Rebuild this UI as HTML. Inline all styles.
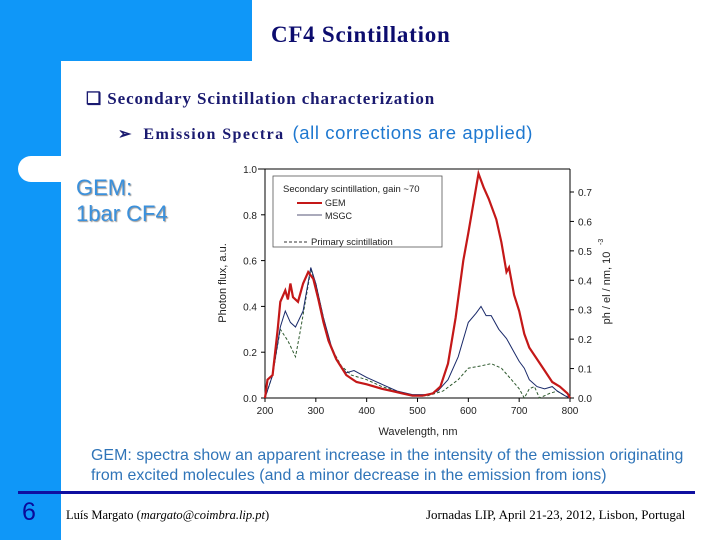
<!DOCTYPE html>
<html><head><meta charset="utf-8"><style>
body{margin:0;width:720px;height:540px;overflow:hidden;background:#fff;position:relative;font-family:"Liberation Sans",sans-serif}
.abs{position:absolute;white-space:nowrap}
.serif{font-family:"Liberation Serif",serif}
</style></head><body>
<div class="abs" style="left:0;top:0;width:252px;height:61px;background:#0f97f8"></div>
<div class="abs" style="left:0;top:0;width:61px;height:540px;background:#0f97f8"></div>
<div class="abs" style="left:61px;top:61px;width:40px;height:40px;background:#fff;border-top-left-radius:20px"></div>
<div class="abs" style="left:18px;top:156px;width:50px;height:26px;background:#fff;border-radius:13px 0 0 13px"></div>
<div class="abs serif" style="left:271px;top:22px;font-size:23px;letter-spacing:0.75px;font-weight:bold;color:#0c0c6e">CF4 Scintillation</div>
<div class="abs serif" style="left:86px;top:89px;font-size:17px;letter-spacing:0.9px;font-weight:bold;color:#1a1a70">&#x2751; Secondary Scintillation characterization</div>
<div class="abs serif" style="left:118px;top:122px;font-size:16px;font-weight:bold;color:#1a1a70">&#x27A2;&nbsp;&nbsp; <span style="letter-spacing:1.4px">Emission Spectra</span> <span style="font-family:'Liberation Sans',sans-serif;font-weight:normal;font-size:18.5px;letter-spacing:0.6px;color:#1e78d0;position:relative;left:4px">(all corrections are applied)</span></div>
<div class="abs" style="left:76px;top:175px;font-size:22px;line-height:26px;color:#3a90dc;text-shadow:1px 1px 1px #999">GEM:<br>1bar CF4</div>
<svg class="abs" style="left:0;top:0" width="720" height="540" id="chart"></svg>
<div class="abs" style="left:91px;top:446px;font-size:15.9px;letter-spacing:0.06px;line-height:20px;color:#2f74b8">GEM: spectra show an apparent increase in the intensity of the emission originating<br>from excited molecules (and a minor decrease in the emission from ions)</div>
<div class="abs" style="left:18px;top:491px;width:677px;height:3px;background:#0f0fa0"></div>
<div class="abs" style="left:22px;top:498px;font-size:25px;color:#0a0a9a">6</div>
<div class="abs serif" style="left:66px;top:508px;font-size:12.5px;color:#000">Luís Margato (<i>margato@coimbra.lip.pt</i>)</div>
<div class="abs serif" style="left:426px;top:507px;font-size:13px;color:#000">Jornadas LIP, April 21-23, 2012, Lisbon, Portugal</div>
<script>
const gemX=[200,205,215,225,230,240,245,250,255,265,275,285,295,305,315,325,340,360,380,400,430,450,470,490,510,530,545,560,575,590,600,610,620,630,640,655,665,675,680,690,700,710,720,735,750,765,780,795,800];
const gemY=[0,0.08,0.1,0.3,0.42,0.47,0.43,0.5,0.44,0.42,0.5,0.55,0.52,0.43,0.33,0.25,0.17,0.1,0.07,0.06,0.04,0.03,0.02,0.01,0.01,0.02,0.05,0.15,0.35,0.6,0.72,0.85,0.98,0.92,0.87,0.78,0.68,0.55,0.57,0.45,0.38,0.28,0.22,0.17,0.12,0.07,0.05,0.02,0];
const msgcX=[200,215,230,240,250,260,275,290,300,315,330,345,360,375,400,430,460,490,520,540,560,580,600,615,625,635,645,660,675,690,700,710,720,735,750,765,775,790,800];
const msgcY=[0,0.1,0.31,0.38,0.33,0.31,0.38,0.57,0.5,0.35,0.23,0.15,0.11,0.12,0.09,0.06,0.03,0.015,0.015,0.03,0.08,0.18,0.33,0.37,0.4,0.36,0.36,0.3,0.26,0.2,0.16,0.13,0.08,0.05,0.04,0.05,0.03,0.01,0];
const primX=[200,215,230,245,260,270,290,300,315,330,350,370,400,430,460,490,520,550,580,600,625,645,665,685,700,710,720,730,740,760,775,790,800];
const primY=[0,0.1,0.3,0.25,0.18,0.3,0.56,0.5,0.35,0.22,0.14,0.1,0.08,0.05,0.03,0.01,0.01,0.03,0.08,0.13,0.14,0.15,0.13,0.08,0.04,0,0.04,0.05,0,0.02,0.03,0.01,0];
const xTicks=[200,300,400,500,600,700,800];
const yTicks=[0,0.2,0.4,0.6,0.8,1.0];
const y2Ticks=[0,0.1,0.2,0.3,0.4,0.5,0.6,0.7];
const X0=265,X1=570,Y0=398,Y1=169;
const sx=v=>X0+(v-200)/600*(X1-X0);
const sy=v=>Y0-v*(Y0-Y1);
const sy2=v=>Y0-v/0.7*(Y0-192);
const svg=document.getElementById('chart');
const NS='http://www.w3.org/2000/svg';
function mk(t,a){const e=document.createElementNS(NS,t);for(const k in a)e.setAttribute(k,a[k]);svg.appendChild(e);return e;}
function txt(x,y,s,anchor,size){const e=mk('text',{x:x,y:y,'text-anchor':anchor,'font-size':size||10,fill:'#222','font-family':'Liberation Sans, sans-serif'});e.textContent=s;return e;}
let e;
e=mk('path',{d:`M${X0} ${Y1}V${Y0}H${X1}V${Y1}`,fill:'none',stroke:'#000','stroke-width':1});


e=mk('line',{x1:X0-7,y1:Y1,x2:X1,y2:Y1,stroke:'#000','stroke-width':1});


xTicks.forEach(v=>{mk('line',{x1:sx(v),y1:Y0,x2:sx(v),y2:Y0+4,stroke:'#000'});
 e=txt(sx(v),Y0+16,String(v),'middle');
 
 });
yTicks.forEach(v=>{mk('line',{x1:X0-4,y1:sy(v),x2:X0,y2:sy(v),stroke:'#000'});
 e=txt(X0-8,sy(v)+4,v.toFixed(1),'end');
 
 });
y2Ticks.forEach(v=>{mk('line',{x1:X1,y1:sy2(v),x2:X1+4,y2:sy2(v),stroke:'#000'});
 e=txt(X1+8,sy2(v)+4,v.toFixed(1),'start');
 
 });
function series(xs,ys,attrs,name){const d=xs.map((x,i)=>(i?'L':'M')+sx(x).toFixed(1)+' '+sy(ys[i]).toFixed(1)).join('');
 const p=mk('path',Object.assign({d:d,fill:'none'},attrs));
 
 }
series(primX,primY,{stroke:'#2f5a2f','stroke-width':1,'stroke-dasharray':'3,2'},'primary-line');
series(msgcX,msgcY,{stroke:'#1a2a6a','stroke-width':1},'msgc-line');
series(gemX,gemY,{stroke:'#c41818','stroke-width':2.2},'gem-line');
e=mk('rect',{x:273,y:176,width:169,height:71,fill:'#fff',stroke:'#555','stroke-width':0.8});


e=txt(283,192,'Secondary scintillation, gain ~70','start',9.5);


mk('line',{x1:297,y1:203,x2:322,y2:203,stroke:'#c41818','stroke-width':2});
e=txt(325,206,'GEM','start',9);


mk('line',{x1:297,y1:215,x2:322,y2:215,stroke:'#aab','stroke-width':2});
e=txt(325,219,'MSGC','start',9);


mk('line',{x1:284,y1:242,x2:309,y2:242,stroke:'#333','stroke-width':1,'stroke-dasharray':'3,2'});
e=txt(311,245,'Primary scintillation','start',9.5);


e=txt(418,435,'Wavelength, nm','middle',11);


e=txt(0,0,'Photon flux, a.u.','middle',11);
e.setAttribute('transform','translate(226,283) rotate(-90)');


e=txt(0,0,'ph / el / nm, 10','middle',11);
e.setAttribute('transform','translate(610,288) rotate(-90)');


e=txt(0,0,'-3','start',7);
e.setAttribute('transform','translate(603,245) rotate(-90)');


</script>
</body></html>
